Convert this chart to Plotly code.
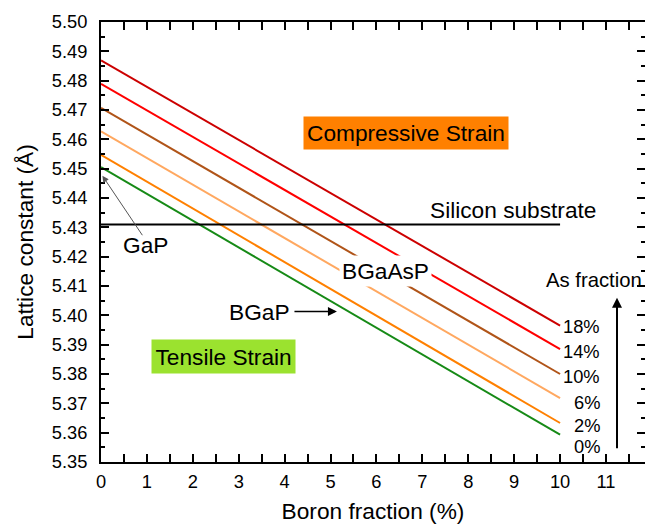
import plotly.graph_objects as go

# Boron fraction (%) end points of each calculated line
boron_pct = [0, 10]

# As fraction of each BGaAsP composition
as_labels = ["0%", "2%", "6%", "10%", "14%", "18%"]
# Lattice constant (Å) at 0 % and at 10 % boron
a_at_b0 = [5.4505, 5.4547, 5.4627, 5.4707, 5.4789, 5.4869]
a_at_b10 = [5.3593, 5.3633, 5.3718, 5.3800, 5.3885, 5.3965]
line_colors = ["#168A16", "#FF8000", "#FFA860", "#B05418", "#FF0000", "#CC0000"]

# Silicon substrate lattice constant (Å)
si_lattice = 5.431
si_span = [0, 10]

# Vertical placement of the As-fraction labels (Å)
as_label_y = [5.3553, 5.3624, 5.3704, 5.3790, 5.3877, 5.3962]

FONT = "Liberation Sans, Arial, sans-serif"
BIG = 22.7

fig = go.Figure()

for lab, a0, a10, col in zip(as_labels, a_at_b0, a_at_b10, line_colors):
    fig.add_trace(go.Scatter(
        x=boron_pct, y=[a0, a10], mode="lines", name=lab,
        line=dict(color=col, width=2), hoverinfo="skip",
    ))

fig.add_trace(go.Scatter(
    x=si_span, y=[si_lattice, si_lattice], mode="lines", name="Si",
    line=dict(color="black", width=2), hoverinfo="skip",
))

# right-hand axis carries only the inward ticks
fig.add_trace(go.Scatter(x=[None], y=[None], yaxis="y2", showlegend=False))

annotations = []

# As-fraction labels at the line ends
for lab, yy in zip(as_labels, as_label_y):
    annotations.append(dict(
        x=10.91, y=yy, xref="x", yref="y", text=lab, showarrow=False,
        xanchor="right", yanchor="middle", font=dict(size=18.3, color="black", family=FONT),
    ))

annotations += [
    dict(x=6.65, y=5.4623, text="Compressive Strain", showarrow=False,
         bgcolor="#FF8000", borderpad=3, font=dict(size=BIG, color="black", family=FONT)),
    dict(x=2.66, y=5.3859, text="Tensile Strain", showarrow=False,
         bgcolor="#9BE22F", borderpad=3.5, font=dict(size=BIG, color="black", family=FONT)),
    dict(x=6.19, y=5.4150, text="BGaAsP", showarrow=False,
         bgcolor="white", borderpad=2, font=dict(size=BIG, color="black", family=FONT)),
    dict(x=8.98, y=5.4360, text="Silicon substrate", showarrow=False,
         font=dict(size=BIG, color="black", family=FONT)),
    dict(x=0.965, y=5.4240, text="GaP", showarrow=False,
         font=dict(size=BIG, color="black", family=FONT)),
    dict(x=3.45, y=5.4013, text="BGaP", showarrow=False,
         font=dict(size=BIG, color="black", family=FONT)),
    dict(x=10.73, y=5.4119, text="As fraction", showarrow=False,
         font=dict(size=20.3, color="black", family=FONT)),
    # arrows
    dict(x=0.03, y=5.4476, text="", showarrow=True, ax=41, ay=61,
         arrowhead=2, arrowsize=1.3, arrowwidth=1, arrowcolor="#555555"),
    dict(x=5.14, y=5.4013, text="", showarrow=True, ax=-44, ay=0,
         arrowhead=2, arrowsize=1.2, arrowwidth=1.5, arrowcolor="black"),
    dict(x=11.24, y=5.4060, text="", showarrow=True, ax=0, ay=152,
         arrowhead=2, arrowsize=1, arrowwidth=2, arrowcolor="black"),
]

tick_font = dict(size=18.3, color="black", family=FONT)

fig.update_layout(
    width=645, height=524,
    margin=dict(l=101, r=0, t=22, b=62),
    paper_bgcolor="white", plot_bgcolor="white",
    showlegend=False,
    annotations=annotations,
    xaxis=dict(
        range=[0, 11.85], tickmode="linear", tick0=0, dtick=1,
        ticks="inside", ticklen=8, tickwidth=2, tickcolor="black",
        minor=dict(ticks="inside", ticklen=4, tickwidth=2, tickcolor="black", dtick=0.5),
        showline=True, linewidth=2, linecolor="black", mirror="allticks",
        showgrid=False, zeroline=False, tickfont=tick_font, ticklabelstandoff=2,
        title=dict(text="Boron fraction (%)", font=dict(size=BIG, color="black", family=FONT),
                   standoff=16),
    ),
    yaxis=dict(
        range=[5.35, 5.50], tickmode="linear", tick0=5.35, dtick=0.01, tickformat=".2f",
        ticks="inside", ticklen=8, tickwidth=2, tickcolor="black",
        minor=dict(ticks="inside", ticklen=4, tickwidth=2, tickcolor="black", dtick=0.005),
        showline=True, linewidth=2, linecolor="black", mirror=False,
        showgrid=False, zeroline=False, tickfont=tick_font, ticklabelstandoff=8,
        title=dict(text="Lattice constant (Å)", font=dict(size=BIG, color="black", family=FONT),
                   standoff=12),
    ),
    yaxis2=dict(
        range=[5.35, 5.50], overlaying="y", side="right", anchor="x",
        tickmode="linear", tick0=5.35, dtick=0.01,
        ticks="inside", ticklen=8, tickwidth=2, tickcolor="black",
        minor=dict(ticks="inside", ticklen=4, tickwidth=2, tickcolor="black", dtick=0.005),
        showline=False, showgrid=False, zeroline=False, showticklabels=False,
    ),
)

fig.write_html("out.html")
